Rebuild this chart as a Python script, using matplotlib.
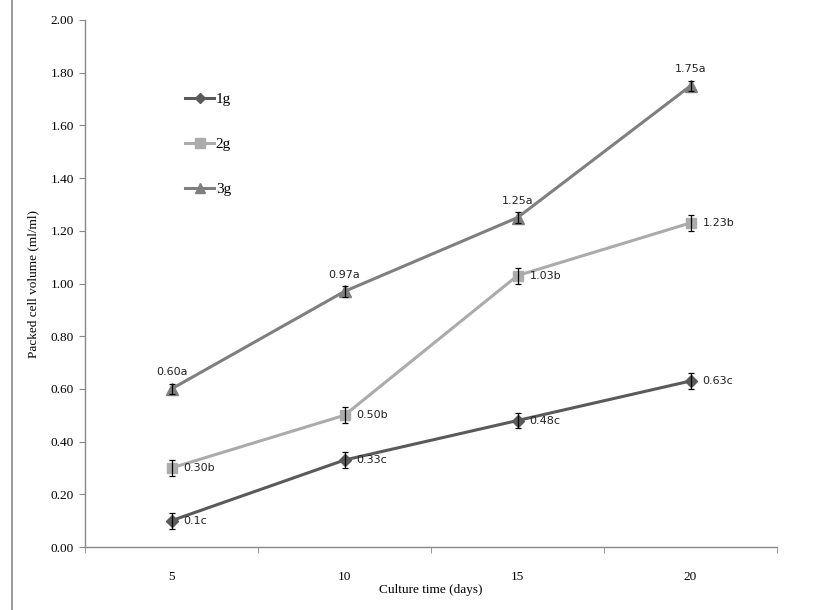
import matplotlib.pyplot as plt
import numpy as np
from matplotlib.lines import Line2D

# culture time categories and packed cell volume per inoculum
days = ["5", "10", "15", "20"]
pcv_1g = [0.10, 0.33, 0.48, 0.63]
pcv_2g = [0.30, 0.50, 1.03, 1.23]
pcv_3g = [0.60, 0.97, 1.25, 1.75]
err_1g = [0.03, 0.03, 0.03, 0.03]
err_2g = [0.03, 0.03, 0.03, 0.03]
err_3g = [0.02, 0.02, 0.02, 0.02]
labels_1g = ["0.1c", "0.33c", "0.48c", "0.63c"]
labels_2g = ["0.30b", "0.50b", "1.03b", "1.23b"]
labels_3g = ["0.60a", "0.97a", "1.25a", "1.75a"]

SERIF = "Liberation Serif"
SANS = "DejaVu Sans"

fig = plt.figure(figsize=(8.38, 6.10), dpi=100)
ax = fig.add_axes([85 / 838, 1 - 547 / 610, 692 / 838, 527 / 610])

x = np.arange(len(days))
series = [
    ("1g", pcv_1g, err_1g, labels_1g, "#5a5a5a", "D", 6),
    ("2g", pcv_2g, err_2g, labels_2g, "#ababab", "s", 7.5),
    ("3g", pcv_3g, err_3g, labels_3g, "#7f7f7f", "^", 8),
]

handles = []
for name, vals, errs, labs, color, marker, ms in series:
    ax.plot(x, vals, color=color, linewidth=2.2, marker=marker, markersize=ms,
            markeredgecolor=color, zorder=3)
    ax.errorbar(x, vals, yerr=errs, fmt="none", ecolor="black", elinewidth=0.9,
                capsize=2.5, capthick=0.9, zorder=4)
    for xi, v, lab in zip(x, vals, labs):
        if name == "3g":
            ax.text(xi, v + 0.045, lab, ha="center", va="bottom", fontsize=8,
                    family=SANS, color="#222222")
        else:
            ax.text(xi + 0.07, v, lab, ha="left", va="center", fontsize=8,
                    family=SANS, color="#222222")
    handles.append(Line2D([], [], color=color, linewidth=2.2, marker=marker,
                          markersize=ms - 1, label=name))

leg = ax.legend(handles=handles, loc="upper left", bbox_to_anchor=(0.125, 0.888),
                frameon=False, handlelength=1.9, handletextpad=0.1,
                labelspacing=2.05, prop={"family": SERIF, "size": 11})

ax.set_xlim(-0.5, len(days) - 0.5)
ax.set_ylim(0, 2.0)
ax.set_yticks(np.arange(0, 2.01, 0.2))
ax.set_yticklabels([f"{t:.2f}" for t in np.arange(0, 2.01, 0.2)],
                   family=SERIF, fontsize=9.5)
ax.set_xticks(x)
ax.set_xticklabels(days, family=SERIF, fontsize=9.5)
ax.set_xticks(np.arange(-0.5, len(days)), minor=True)
ax.tick_params(axis="x", which="major", length=0, pad=17)
ax.tick_params(axis="x", which="minor", length=4, color="#888888")
ax.tick_params(axis="y", length=4, color="#888888", pad=4)

ax.set_xlabel("Culture time (days)", family=SERIF, fontsize=9.5, labelpad=1)
ax.set_ylabel("Packed cell volume (ml/ml)", family=SERIF, fontsize=9.5,
              labelpad=8)

ax.spines[["top", "right"]].set_visible(False)
for side in ("left", "bottom"):
    ax.spines[side].set_color("#888888")
    ax.spines[side].set_linewidth(1.0)

# thin rule down the left edge of the page
fig.add_artist(Line2D([12 / 838, 12 / 838], [0, 1], transform=fig.transFigure,
                      color="#888888", linewidth=1.2))

fig.savefig("out.png", dpi=100, facecolor="white")
